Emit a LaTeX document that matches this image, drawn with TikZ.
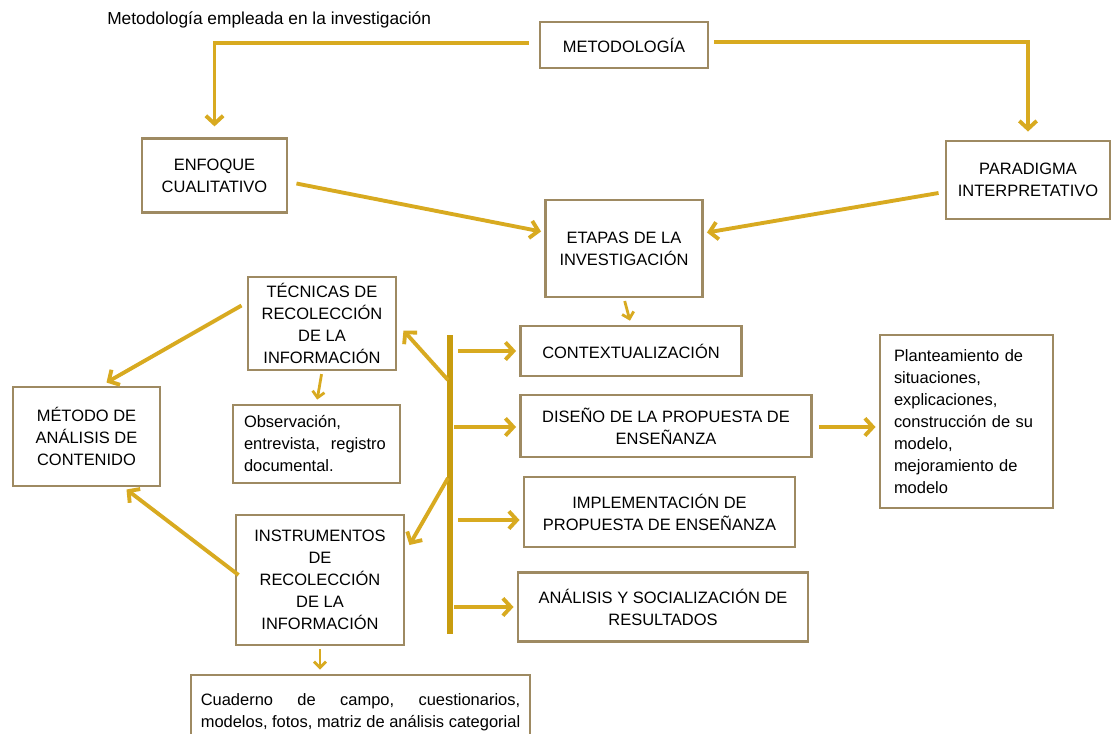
\documentclass[tikz,border=0pt]{standalone}
\usepackage{fontspec}
\setmainfont{Liberation Sans}
\usetikzlibrary{arrows.meta,calc}
\definecolor{goldc}{RGB}{216,170,32}
\definecolor{barc}{RGB}{200,156,14}
\definecolor{boxc}{RGB}{158,138,98}
\newcommand{\dgfont}{\fontsize{12.35}{16.5}\selectfont}
\newcommand{\ttlfont}{\fontsize{13}{16.5}\selectfont}
\begin{document}
\begin{tikzpicture}[x=0.75pt,y=-0.75pt,
  box/.style={draw=boxc, line width=2.2pt, fill=white, inner sep=0pt, align=center, font=\dgfont},
  txt/.style={inner sep=0pt, align=center, font=\dgfont},
  sz/.style 2 args={minimum width=#1*0.75pt, minimum height=#2*0.75pt},
  arr/.style={draw=goldc, line width=2.9pt, -{Straight Barb[length=6pt,width=13pt]}},
  sarr/.style={draw=goldc, line width=2.1pt, -{Straight Barb[length=4.5pt,width=9pt]}, shorten <=2pt, shorten >=3pt},
  barline/.style={draw=barc, line width=5pt}]
\useasboundingbox (0,0) rectangle (1113,733);
\fill[white] (0,0) rectangle (1113,733);

\node[anchor=west, font=\ttlfont, inner sep=0pt] (title) at (107,20) {Metodología empleada en la investigación};

\node[box, sz={168}{46}] (met) at (624,45) {METODOLOGÍA};
\node[box, sz={145}{74}] (enf) at (214.5,175.5) {ENFOQUE\\CUALITATIVO};
\node[box, sz={164}{78}] (par) at (1028,180) {PARADIGMA\\INTERPRETATIVO};
\node[box, sz={157}{97}] (eta) at (624,248.5) {ETAPAS DE LA\\INVESTIGACIÓN};
\node[box, sz={148}{93}] (tec) at (322,323.5) {TÉCNICAS DE\\RECOLECCIÓN\\DE LA\\INFORMACIÓN};
\node[box, text width=145*0.75pt, inner xsep=11*0.75pt, align=left, minimum height=78*0.75pt] (obs) at (316.5,444) {Observación,\\entrevista,\ \ registro\\documental.};
\node[box, sz={147}{99}] (mto) at (86.5,436.5) {MÉTODO DE\\ANÁLISIS DE\\CONTENIDO};
\node[box, sz={168}{130}] (ins) at (320,580) {INSTRUMENTOS\\DE\\RECOLECCIÓN\\DE LA\\INFORMACIÓN};
\node[box, sz={221}{50}] (con) at (631,351) {CONTEXTUALIZACIÓN};
\node[box, sz={291}{62}] (dis) at (666,426) {DISEÑO DE LA PROPUESTA DE\\ENSEÑANZA};
\node[box, sz={271}{70}] (imp) at (659.5,512) {IMPLEMENTACIÓN DE\\PROPUESTA DE ENSEÑANZA};
\node[box, sz={290}{69}] (ana) at (663,607) {ANÁLISIS Y SOCIALIZACIÓN DE\\RESULTADOS};
\node[box, text width=145*0.75pt, inner xsep=14*0.75pt, align=left, minimum height=173*0.75pt] (pla) at (966.5,421.5) {Planteamiento de\\situaciones,\\explicaciones,\\construcción de su\\modelo,\\mejoramiento de\\modelo};
\node[box, sz={339}{80}] (cua) at (360.5,715) {};
\node[inner sep=0pt, font=\dgfont] (cuat) at (360.5,712) {\setbox0=\hbox{modelos, fotos, matriz de análisis categorial}\vbox{\hbox to \wd0{Cuaderno\hfill de\hfill campo,\hfill cuestionarios,}\box0}};

% top connectors
\draw[arr, shorten >=8pt] ($(met.west)+(-10,-2)$) -| (enf.north);
\draw[arr, shorten >=6pt] ($(met.east)+(5,-3)$) -| (par.north);
\draw[arr] ($(enf.east)+(8,8)$) -- ($(eta.west)+(-3,-17)$);
\draw[arr] ($(par.west)+(-6,13)$) -- ($(eta.east)+(3,-16)$);
\draw[sarr] (eta.south) -- (con.north);

% bar
\coordinate (bt) at (450,335);
\coordinate (bb) at (450,634);
\draw[barline] (bt) -- (bb);
\coordinate (b1) at (450,351);
\coordinate (b2) at (450,427);
\coordinate (b3) at (450,520);
\coordinate (b4) at (450,607);
\coordinate (bu) at (448,380);
\coordinate (bl) at (448,478);
\draw[arr] ($(b1)+(8,0)$) -- ($(b1 -| con.west)+(-3,0)$);
\draw[arr] ($(b2)+(4,0)$) -- ($(b2 -| dis.west)+(-3,0)$);
\draw[arr] ($(b3)+(8,0)$) -- ($(b3 -| imp.west)+(-3,0)$);
\draw[arr] ($(b4)+(4,0)$) -- ($(b4 -| ana.west)+(-3,0)$);
\draw[arr] (bu) -- ($(tec.east)+(6,7)$);
\draw[arr] (bl) -- ($(ins.east)+(4,-35)$);

% left side
\draw[sarr] (tec.south) -- (obs.north);
\draw[arr] ($(tec.west)+(-5,-18)$) -- ($(mto.north)+(20,-3)$);
\draw[arr] ($(ins.west)+(4,-5)$) -- ($(mto.south)+(40,2)$);
\draw[sarr] (ins.south) -- (ins.south |- cua.north);

% right
\coordinate (d1) at ($(dis.east)+(6,1)$);
\draw[arr] (d1) -- ($(d1 -| pla.west)+(-3,0)$);
\end{tikzpicture}
\end{document}
